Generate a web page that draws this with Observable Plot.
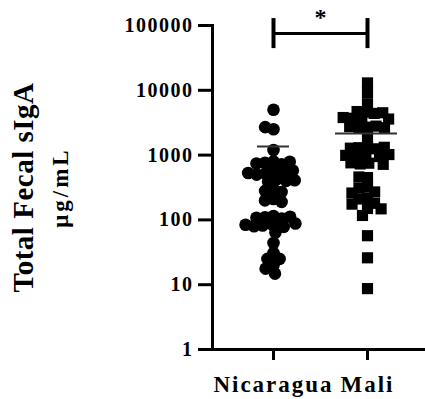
<!DOCTYPE html>
<html><head><meta charset="utf-8">
<script src="https://cdn.jsdelivr.net/npm/d3@7"></script>
<script src="https://cdn.jsdelivr.net/npm/@observablehq/plot@0.6"></script>
<style>
body{margin:0;background:#fff;}
#chart svg{display:block;font-family:"Liberation Serif","Times New Roman",serif;color:#000;}
g[aria-label="y-axis tick label"] text{letter-spacing:1.5px;}
g[aria-label="fx-axis tick label"] text{letter-spacing:2px;}
g[aria-label="y-axis label"] text{letter-spacing:0.5px;}
</style></head><body><div id="chart"></div>
<script>
// ---- data ----
const groups = ["Nicaragua", "Mali"];
const nicaraguaValues = [
  5000,
  2500, 2700,
  1200,
  800, 760, 720, 790, 740,
  560, 520, 540, 580, 500, 530,
  420, 400, 390, 410,
  300, 280, 270,
  210, 200, 190,
  115, 110, 105, 112, 108,
  85, 82, 78, 88, 80, 84,
  64,
  44, 31, 25, 25, 20, 17.7, 14.8
];
const maliValues = [
  13000, 9200,
  6200,
  4600, 4400, 4700, 4500,
  3700, 3600, 3800, 3500,
  2700, 2600, 2800, 2650, 2750,
  1900,
  1350, 1300, 1250, 1320, 1280,
  1000, 980, 950, 1020, 990,
  750, 730, 760, 720,
  450, 460,
  320, 310,
  270, 260,
  215, 210,
  180, 175,
  150, 148,
  117,
  57,
  26,
  8.7
];
const groupMeans = [1358, 2155];
const yTicks = [1, 10, 100, 1000, 10000, 100000];
const sigCap = [44000, 128000];
const sigBarLevel = 75000;
const sigStarLevel = 133000;
const sigLabel = "*";
const yTitle = "Total Fecal sIgA";
const yUnit = "μg/mL";

// ---- tables built from the arrays ----
const points = [
  ...nicaraguaValues.map(v => ({group: groups[0], value: v})),
  ...maliValues.map(v => ({group: groups[1], value: v}))
];
const means = groups.map((g, i) => ({group: g, value: groupMeans[i]}));

// facet band layout (overlapping bands so the y axis sits at the first band's edge)
const fxRange = [212, 428];
const fxPadInner = -0.298;
const step = (fxRange[1] - fxRange[0]) / (groups.length - fxPadInner);
const halfBand = step * (1 - fxPadInner) / 2;

const chart = Plot.plot({
  width: 425,
  height: 399,
  marginLeft: 212,
  marginRight: 0,
  marginTop: 25,
  marginBottom: 50,
  style: {fontFamily: "'Liberation Serif', 'Times New Roman', serif", color: "#000", background: "#fff"},
  y: {type: "log", domain: [1, 100000]},
  fx: {domain: groups, range: fxRange, paddingInner: fxPadInner, paddingOuter: 0, align: 0, round: false},
  symbol: {domain: groups, range: ["circle", "square"]},
  marks: [
    Plot.frame({anchor: "left", facetAnchor: "left", strokeWidth: 3}),
    Plot.ruleY([1], {strokeWidth: 3}),
    Plot.axisY({ticks: yTicks, tickFormat: d => String(d), tickSize: 14, tickPadding: 5, strokeWidth: 3,
      fontSize: 20, fontWeight: "bold", label: null}),
    Plot.axisY({ticks: [], tickSize: 0, label: yTitle, labelAnchor: "center", labelOffset: 200, labelArrow: false,
      fontSize: 29, fontWeight: "bold", dy: -3}),
    Plot.axisY({ticks: [], tickSize: 0, label: yUnit, labelAnchor: "center", labelOffset: 161, labelArrow: false,
      fontSize: 23, fontWeight: "bold"}),
    Plot.axisFx({anchor: "bottom", tickSize: 11, tickPadding: 15, strokeWidth: 3, fontSize: 23, fontWeight: "bold", label: null}),
    Plot.dot(points, Plot.dodgeX({anchor: "middle", padding: -4},
      {fx: "group", y: "value", symbol: "group", r: 6.3, fill: "#000", stroke: "none"})),
    Plot.tickY(means.filter(d => d.group === groups[0]), {fx: "group", y: "value", stroke: "#333", strokeWidth: 2, insetLeft: halfBand - 16, insetRight: halfBand - 16}),
    Plot.tickY(means.filter(d => d.group === groups[1]), {fx: "group", y: "value", stroke: "#333", strokeWidth: 2, insetLeft: halfBand - 32, insetRight: halfBand - 30}),
    Plot.ruleX(groups, {fx: d => d, x: null, y1: sigCap[0], y2: sigCap[1], strokeWidth: 4}),
    Plot.ruleY([sigBarLevel], {fx: () => groups[0], insetLeft: halfBand, strokeWidth: 3}),
    Plot.ruleY([sigBarLevel], {fx: () => groups[1], insetRight: halfBand, strokeWidth: 3}),
    Plot.text([sigLabel], {fx: () => groups[0], y: sigStarLevel, text: d => d, dx: step / 2, fontSize: 24, fontWeight: "bold", lineAnchor: "middle"})
  ]
});
// wider letter spacing for the unit line of the y title
chart.querySelectorAll('g[aria-label="y-axis label"] text').forEach(t => {
  if (t.textContent === yUnit) t.style.letterSpacing = "3px";
});
document.getElementById("chart").appendChild(chart);
</script>
</body></html>
